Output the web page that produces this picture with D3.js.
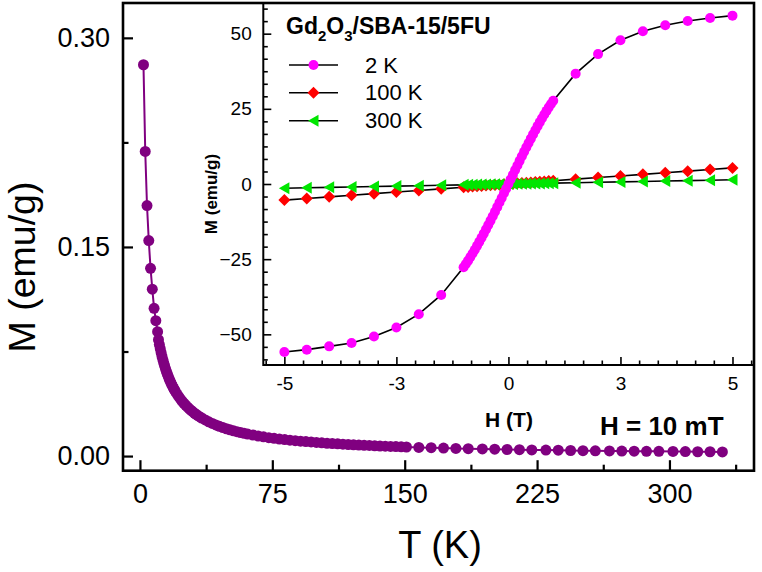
<!DOCTYPE html>
<html><head><meta charset="utf-8">
<script src="https://cdn.jsdelivr.net/npm/d3@7"></script>
<style>html,body{margin:0;padding:0;background:#fff}svg{display:block}text{font-family:"Liberation Sans",Arial,sans-serif}</style>
</head><body><svg id="c" width="762" height="572"></svg>
<script>
// ---- main panel: M vs T at H = 10 mT ----
const tempK = [2,3,4,5,6,7,8,9,10,
  10.5,11,11.5,12,12.5,13,13.5,14,14.5,15,15.5,16,16.5,17,17.5,18,18.5,19,19.5,20,
  21,22,23,24,25,26,27,28,29,30,31,32,33,34,35,
  37,39,41,43,45,47,49,51,53,55,57,59,61,
  64,67,70,73,76,79,82,85,88,91,94,97,100,103,106,109,112,115,118,121,124,127,130,133,136,139,142,145,148,151,
  158,165,172,179,186,194,201,208,215,222,230,237,244,251,258,266,273,280,287,294,302,309,316,323,330];
const magMain = [0.2807,0.2185,0.1797,0.1546,0.1347,0.1197,0.1060,0.0971,0.0892,
  0.0835,0.0800,0.0770,0.0742,0.0715,0.0690,0.0667,0.0646,0.0626,0.0607,0.0589,0.0572,0.0556,0.0541,0.0527,0.0513,0.0500,0.0488,0.0476,0.0465,
  0.0445,0.0426,0.0408,0.0392,0.0377,0.0364,0.0351,0.0339,0.0327,0.0317,0.0307,0.0298,0.0289,0.0281,0.0273,
  0.0259,0.0246,0.0234,0.0223,0.0213,0.0204,0.0196,0.0188,0.0181,0.0175,0.0169,0.0163,0.0158,
  0.0151,0.0144,0.0138,0.0132,0.0127,0.0122,0.0118,0.0114,0.0110,0.0107,0.0104,0.0101,0.0098,0.0095,0.0092,0.0090,0.0088,0.0085,0.0083,0.0081,0.0079,0.0077,0.0076,0.0074,0.0072,0.0071,0.0069,0.0068,0.0066,0.0065,
  0.0062,0.0060,0.0057,0.0055,0.0053,0.0051,0.0049,0.0047,0.0046,0.0044,0.0043,0.0042,0.0040,0.0039,0.0038,0.0037,0.0036,0.0035,0.0034,0.0034,0.0033,0.0032,0.0031,0.0031,0.0030];
const mainXTicks = [0,75,150,225,300];
const mainXMinor = [37.5,112.5,187.5,262.5,337.5];
const mainYTicks = [0,0.15,0.30];
const mainYMinor = [0.075,0.225];

// ---- inset: M vs H ----
const field2K = [-5,-4.5,-4,-3.5,-3,-2.5,-2,-1.5,
  -1,-0.95,-0.9,-0.85,-0.8,-0.75,-0.7,-0.65,-0.6,-0.55,-0.5,-0.45,-0.4,-0.35,-0.3,-0.25,-0.2,-0.15,-0.1,-0.05,
  0,0.05,0.1,0.15,0.2,0.25,0.3,0.35,0.4,0.45,0.5,0.55,0.6,0.65,0.7,0.75,0.8,0.85,0.9,0.95,1,
  1.5,2,2.5,3,3.5,4,4.5,5];
const mag2K = [-55.9,-55.1,-54.0,-52.9,-50.7,-47.7,-43.3,-36.9,
  -27.70,-26.62,-25.49,-24.32,-23.11,-21.86,-20.57,-19.24,-17.89,-16.50,-15.09,-13.65,-12.19,-10.71,-9.21,-7.70,-6.17,-4.64,-3.10,-1.55,
  0,1.55,3.10,4.64,6.17,7.70,9.21,10.71,12.19,13.65,15.09,16.50,17.89,19.24,20.57,21.86,23.11,24.32,25.49,26.62,27.70,
  36.7,43.2,47.8,50.8,52.8,54.2,55.2,56.0];
const fieldHT = [-5,-4.5,-4,-3.5,-3,-2.5,-2,-1.5,
  -1,-0.9,-0.8,-0.7,-0.6,-0.5,-0.4,-0.3,-0.2,-0.1,0,0.1,0.2,0.3,0.4,0.5,0.6,0.7,0.8,0.9,1,
  1.5,2,2.5,3,3.5,4,4.5,5];
const mag100K = [-5.35,-4.82,-4.28,-3.75,-3.21,-2.68,-2.14,-1.61,
  -1.07,-0.96,-0.86,-0.75,-0.64,-0.54,-0.43,-0.32,-0.21,-0.11,0,0.11,0.21,0.32,0.43,0.54,0.64,0.75,0.86,0.96,1.07,
  1.61,2.14,2.68,3.21,3.75,4.28,4.82,5.35];
const mag300K = [-1.40,-1.26,-1.12,-0.98,-0.84,-0.70,-0.56,-0.42,
  -0.28,-0.25,-0.22,-0.20,-0.17,-0.14,-0.11,-0.08,-0.06,-0.03,0,0.03,0.06,0.08,0.11,0.14,0.17,0.20,0.22,0.25,0.28,
  0.42,0.56,0.70,0.84,0.98,1.12,1.26,1.40];
const insetXTicks = [-5,-2.5,0,2.5,5];
const insetXTickLabels = ["-5","-3","0","3","5"];
const insetYTicks = [-50,-25,0,25,50];
const legendLabels = ["2 K","100 K","300 K"];

const svg = d3.select("#c");
const FONT = '"Liberation Sans",Arial,sans-serif';

// main scales
const x = d3.scaleLinear([-9.6,347.9],[123,754]);
const y = d3.scaleLinear([-0.0105,0.325],[470.7,3]);

const mainPts = tempK.map((t,i)=>[t,magMain[i]]);
svg.append("path").datum(mainPts)
  .attr("d", d3.line().x(d=>x(d[0])).y(d=>y(d[1])))
  .attr("fill","none").attr("stroke","#800080").attr("stroke-width",2);
svg.append("g").selectAll("circle").data(mainPts).join("circle")
  .attr("cx",d=>x(d[0])).attr("cy",d=>y(d[1])).attr("r",5.5).attr("fill","#800080");

function styleAxis(g, fs, sw){
  g.select(".domain").remove();
  g.attr("font-family",FONT).attr("font-size",fs);
  g.selectAll(".tick line").attr("stroke","#000").attr("stroke-width",sw);
  g.selectAll(".tick text").attr("fill","#000");
}
// main axes
svg.append("g").attr("transform","translate(0,470.7)")
  .call(d3.axisBottom(x).tickValues(mainXTicks).tickFormat(d3.format("d")).tickSizeInner(-10.5).tickSizeOuter(0).tickPadding(13.4))
  .call(g=>styleAxis(g,27,2.2));
svg.append("g").attr("transform","translate(0,470.7)")
  .call(d3.axisBottom(x).tickValues(mainXMinor).tickFormat("").tickSizeInner(-6).tickSizeOuter(0))
  .call(g=>styleAxis(g,27,2.2));
svg.append("g").attr("transform","translate(123,0)")
  .call(d3.axisLeft(y).tickValues(mainYTicks).tickFormat(d3.format(".2f")).tickSizeInner(-10).tickSizeOuter(0).tickPadding(13))
  .call(g=>styleAxis(g,27,2.2));
svg.append("g").attr("transform","translate(123,0)")
  .call(d3.axisLeft(y).tickValues(mainYMinor).tickFormat("").tickSizeInner(-5.5).tickSizeOuter(0))
  .call(g=>styleAxis(g,27,2.2));

svg.append("text").attr("x",440).attr("y",558).attr("text-anchor","middle")
  .attr("font-size",38).attr("font-family",FONT).text("T (K)");
svg.append("text").attr("transform","translate(34.5,267) rotate(-90)").attr("text-anchor","middle")
  .attr("font-size",37.5).attr("font-family",FONT).text("M (emu/g)");
svg.append("text").attr("x",600).attr("y",435).attr("font-size",26).attr("font-weight","bold")
  .attr("font-family",FONT).text("H = 10 mT");

// inset
const ix = d3.scaleLinear([-5.47,5.48],[263.3,754]);
const iy = d3.scaleLinear([-60.2,60.2],[365,3]);
const inset = svg.append("g");
inset.append("rect").attr("x",263.3).attr("y",3).attr("width",754-263.3).attr("height",362).attr("fill","#fff");

const diamond = "M0,-6L6,0L0,6L-6,0Z";
const triLeft = "M-5.5,0L5,-6L5,6Z";
const series = [
  {label:legendLabels[1], xs:fieldHT, ys:mag100K, color:"#ff0000", shape:"diamond"},
  {label:legendLabels[2], xs:fieldHT, ys:mag300K, color:"#00e600", shape:"tri"},
  {label:legendLabels[0], xs:field2K, ys:mag2K, color:"#ff00ff", shape:"circle"}
];
const lineGen = d3.line().x(d=>ix(d[0])).y(d=>iy(d[1]));
function drawMarker(sel, shape, color){
  if(shape==="circle") sel.append("circle").attr("r",5).attr("fill",color);
  else sel.append("path").attr("d", shape==="diamond"?diamond:triLeft).attr("fill",color);
}
series.forEach(s=>{
  const pts = s.xs.map((h,i)=>[h,s.ys[i]]);
  inset.append("path").datum(pts).attr("d",lineGen).attr("fill","none").attr("stroke","#000").attr("stroke-width",1.6);
  const g = inset.append("g");
  pts.forEach(p=>{
    const m = g.append("g").attr("transform",`translate(${ix(p[0])},${iy(p[1])})`);
    drawMarker(m, s.shape, s.color);
  });
});

// inset axes
const yMinor = d3.range(-14,15).filter(k=>k%6!==0).map(k=>k*25/6);
const xMinor = d3.range(-13,14).filter(k=>k%6!==0).map(k=>k*2.5/6);
inset.append("g").attr("transform","translate(0,365)")
  .call(d3.axisBottom(ix).tickValues(insetXTicks).tickFormat((d,i)=>insetXTickLabels[i]).tickSizeInner(-8).tickSizeOuter(0).tickPadding(11.5))
  .call(g=>styleAxis(g,19,1.6));
inset.append("g").attr("transform","translate(0,365)")
  .call(d3.axisBottom(ix).tickValues(xMinor).tickFormat("").tickSizeInner(-4.5).tickSizeOuter(0))
  .call(g=>styleAxis(g,19,1.6));
inset.append("g").attr("transform","translate(263.3,0)")
  .call(d3.axisLeft(iy).tickValues(insetYTicks).tickFormat(d3.format("d")).tickSizeInner(-8).tickSizeOuter(0).tickPadding(11.6))
  .call(g=>styleAxis(g,19,1.6));
inset.append("g").attr("transform","translate(263.3,0)")
  .call(d3.axisLeft(iy).tickValues(yMinor).tickFormat("").tickSizeInner(-4.5).tickSizeOuter(0))
  .call(g=>styleAxis(g,19,1.6));
inset.append("path").attr("d","M263.3,3V365H754").attr("fill","none").attr("stroke","#000").attr("stroke-width",2);

inset.append("text").attr("x",509).attr("y",426.5).attr("text-anchor","middle").attr("font-size",21)
  .attr("font-weight","bold").attr("font-family",FONT).text("H (T)");
inset.append("text").attr("transform","translate(217,194) rotate(-90)").attr("text-anchor","middle")
  .attr("font-size",17).attr("font-weight","bold").attr("font-family",FONT).text("M (emu/g)");

// title with subscripts
const title = inset.append("text").attr("x",286).attr("y",34.3).attr("font-size",23)
  .attr("font-weight","bold").attr("font-family",FONT);
title.append("tspan").text("Gd");
title.append("tspan").attr("font-size",15).attr("dy",7).text("2");
title.append("tspan").attr("dy",-7).text("O");
title.append("tspan").attr("font-size",15).attr("dy",7).text("3");
title.append("tspan").attr("dy",-7).text("/SBA-15/5FU");

// legend
const legRows = [65,92.7,120.7];
const legSeries = [series[2],series[0],series[1]];
legSeries.forEach((s,i)=>{
  const yy = legRows[i];
  inset.append("line").attr("x1",289).attr("x2",338).attr("y1",yy).attr("y2",yy).attr("stroke","#000").attr("stroke-width",1.6);
  const m = inset.append("g").attr("transform",`translate(313.5,${yy})`);
  drawMarker(m, s.shape, s.color);
  inset.append("text").attr("x",365).attr("y",yy+7.6).attr("font-size",22).attr("font-family",FONT).text(s.label);
});

// main frame on top
svg.append("rect").attr("x",123).attr("y",3).attr("width",754-123).attr("height",470.7-3)
  .attr("fill","none").attr("stroke","#000").attr("stroke-width",2.6);
</script></body></html>
